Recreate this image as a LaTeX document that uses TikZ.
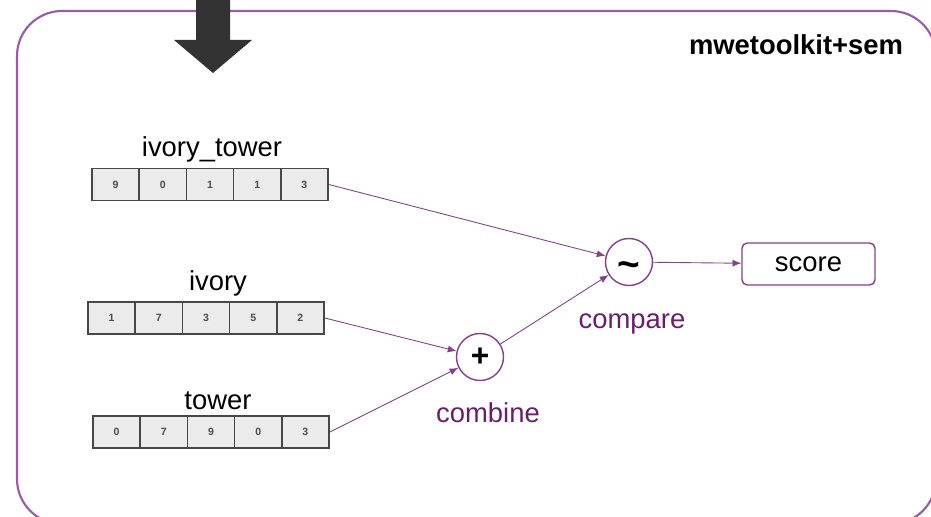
\documentclass[tikz,border=0pt]{standalone}
\usepackage{fontspec}
\setmainfont{Liberation Sans}
\usetikzlibrary{arrows.meta}
\definecolor{framecol}{HTML}{9A5AA6}
\definecolor{edgecol}{HTML}{84418A}
\definecolor{lblcol}{HTML}{6A1D6D}
\definecolor{cellfill}{HTML}{EBEBEB}
\tikzset{
  cell/.style={draw=black!72, fill=cellfill, line width=0.9pt, minimum width=0.944cm, minimum height=0.64cm, inner sep=0pt, font=\fontsize{6}{7}\selectfont\bfseries, text=black!70},
  vlabel/.style={font=\fontsize{15.6}{18}\selectfont},
  oplabel/.style={font=\fontsize{15.6}{18}\selectfont, text=lblcol},
  op/.style={circle, draw=edgecol, line width=0.8pt, minimum size=0.94cm, inner sep=0pt, font=\fontsize{17}{18}\selectfont},
  outbox/.style={draw=edgecol, line width=0.8pt, rounded corners=3pt, minimum width=2.66cm, minimum height=0.84cm, font=\fontsize{15.6}{18}\selectfont},
  flow/.style={->, draw=edgecol, line width=0.5pt, >={Latex[length=5pt,width=4pt]}}
}
\begin{document}
\begin{tikzpicture}[x=0.02cm, y=-0.02cm]
  \useasboundingbox (0,0) rectangle (931,517);
  \draw[framecol, line width=1.2pt, rounded corners=0.9cm] (17,11) rectangle (936,524);
  \fill[black!80] (196,-2) -- (230,-2) -- (230,40) -- (252,40) -- (213,73) -- (174,40) -- (196,40) -- cycle;
  \node[font=\fontsize{15.6}{18}\selectfont\bfseries] (title) at (796,45) {mwetoolkit+sem};

  \node[vlabel] (lit) at (212,149) {ivory\_tower};
  \foreach \v [count=\i] in {9,0,1,1,3}
    \node[cell] (it\i) at ({92+23.6+47.2*(\i-1)},184.5) {\v};
  \node[vlabel] (lic) at (218,283) {ivory};
  \foreach \v [count=\i] in {1,7,3,5,2}
    \node[cell] (ic\i) at ({88+23.6+47.2*(\i-1)},318) {\v};
  \node[vlabel] (ltw) at (218,401) {tower};
  \foreach \v [count=\i] in {0,7,9,0,3}
    \node[cell] (tw\i) at ({93+23.6+47.2*(\i-1)},432) {\v};

  \node[op, font=\fontsize{22}{22}\selectfont\bfseries] (cmp) at (629,262) {\rule{0pt}{12pt}\smash{\raisebox{-3pt}{\char"7E}}};
  \node[op, font=\fontsize{18}{18}\selectfont\bfseries] (cmb) at (480,357) {+};
  \node[outbox] (score) at (808.5,264) {score};
  \node[oplabel] (lcmp) at (632,324) {compare};
  \node[oplabel] (lcmb) at (488,413) {combine};

  \draw[flow] (it5.east) -- (cmp);
  \draw[flow] (ic5.east) -- (cmb);
  \draw[flow] (tw5.east) -- (cmb);
  \draw[flow] (cmb) -- (cmp);
  \draw[flow] (cmp) -- (score);
\end{tikzpicture}
\end{document}
